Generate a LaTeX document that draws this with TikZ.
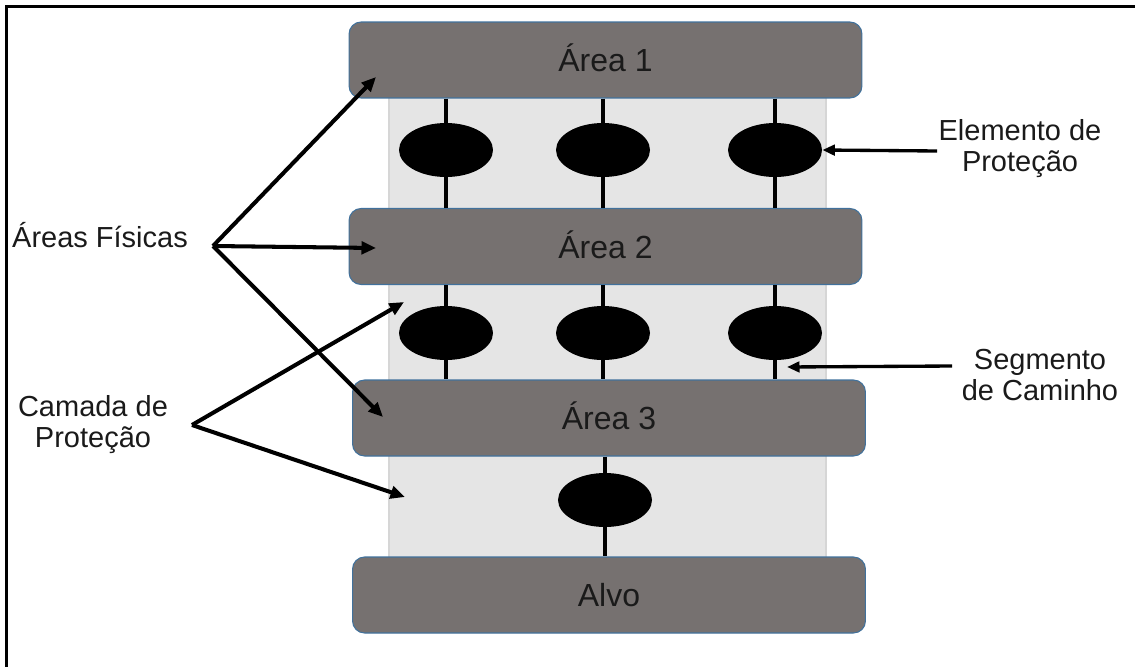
\documentclass[tikz,border=0pt]{standalone}
\usepackage{fontspec}
\setmainfont{Liberation Sans}
\usetikzlibrary{shapes.geometric,arrows.meta}
\definecolor{areagray}{RGB}{118,113,112}
\definecolor{areaedge}{RGB}{65,113,156}
\definecolor{bandgray}{RGB}{229,229,229}
\definecolor{bandedge}{RGB}{214,214,214}
\definecolor{txt}{RGB}{26,26,26}

\begin{document}
\begin{tikzpicture}[x=0.02cm,y=-0.02cm,
  area/.style={draw=areaedge,line width=0.6pt,fill=areagray,rounded corners=0.24cm,
    minimum width=10.26cm,minimum height=1.52cm,inner sep=0pt,text=txt,
    font=\fontsize{18.2}{22}\selectfont,text height=13.6pt,text depth=0pt},
  elem/.style={ellipse,fill=black,minimum width=1.88cm,minimum height=1.08cm,inner sep=0pt},
  seg/.style={line width=2.5pt},
  lbl/.style={align=center,text=txt,font=\fontsize{16.5}{17.6}\selectfont,inner sep=0pt},
  seta/.style={line width=2.3pt,-{Triangle[length=0.29cm,width=0.25cm]}},
  setb/.style={line width=1.9pt,-{Triangle[length=0.25cm,width=0.21cm]}}]

\clip (0,0) rectangle (1135,666);
\draw[line width=1.5pt] (6.5,6.5) rectangle (1200,720);
\filldraw[fill=bandgray,draw=bandedge,line width=0.6pt] (389,60) rectangle (826,596);

\node[area] (a1) at (605.5,60) {Área 1};
\node[area] (a2) at (605.5,246.5) {Área 2};
\node[area] (a3) at (609,418) {Área 3};
\node[area] (alvo) at (609,595) {Alvo};

\foreach \c/\x in {1/446,2/603,3/775}{
  \node[elem] (p\c) at (\x,150) {};
  \node[elem] (q\c) at (\x,333) {};
  \draw[seg] (a1.south -| p\c) -- (p\c.north) (p\c.south) -- (a2.north -| p\c)
    (a2.south -| q\c) -- (q\c.north) (q\c.south) -- (a3.north -| q\c);
}
\node[elem] (r1) at (605,500) {};
\draw[seg] (a3.south -| r1) -- (r1.north) (r1.south) -- (alvo.north -| r1);

\node[lbl,anchor=base] (fis) at (100,247) {Áreas Físicas};
\node[lbl] (cam) at (93,425) {Camada de\\Proteção};
\node[lbl] (ele) at (1020,149) {Elemento de\\Proteção};
\node[lbl] (segc) at (1040,375) {Segmento\\de Caminho};

\coordinate (fo) at (213,246);
\coordinate (co) at (192,425);
\coordinate (eo) at (937,151);
\coordinate (so) at (952,366);
\coordinate (t1) at (376,77);
\coordinate (t2) at (376,248);
\coordinate (t3) at (383,417);
\coordinate (c1) at (404,302);
\coordinate (c2) at (405,497);

\draw[seta] (fo) -- (t1);
\draw[seta] (fo) -- (t2);
\draw[seta] (fo) -- (t3);
\draw[seta] (co) -- (c1);
\draw[seta] (co) -- (c2);
\draw[setb] (eo) -- (p3.east);
\draw[setb] (so) -- (787,367);

\end{tikzpicture}
\end{document}
